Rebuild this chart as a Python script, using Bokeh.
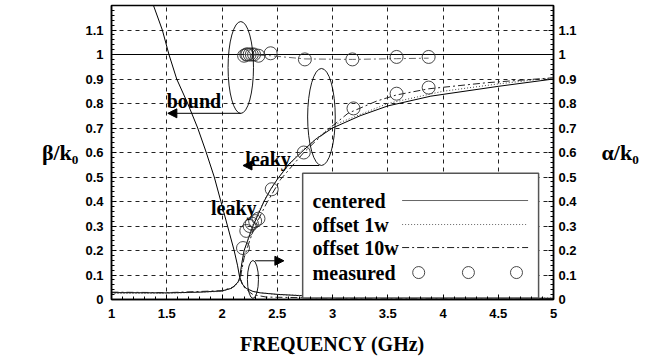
from bokeh.plotting import figure
from bokeh.models import LinearAxis, FixedTicker, NumeralTickFormatter, Arrow, NormalHead, Label, Range1d
from bokeh.embed import file_html
from bokeh.resources import INLINE
from bokeh.core.properties import value

# ---------------- data ----------------
# centered: alpha/k0 (steep reactive branch, then small leaky attenuation)
freq_alpha_c = [1.38, 1.46, 1.52, 1.59, 1.69, 1.78, 1.85, 1.93, 1.99, 2.05, 2.11, 2.14, 2.16,
                2.18, 2.22, 2.28, 2.35, 2.5, 2.7, 3.0, 3.5, 4.0, 4.5, 5.0]
alpha_c = [1.2, 1.1, 1.0, 0.9, 0.8, 0.7, 0.61, 0.5, 0.4, 0.3, 0.2, 0.14, 0.09,
           0.065, 0.045, 0.033, 0.027, 0.021, 0.016, 0.012, 0.009, 0.007, 0.006, 0.005]
# centered: beta/k0 (below cutoff, then leaky)
freq_beta_c = [1.0, 1.5, 1.8, 2.0, 2.08, 2.12, 2.15, 2.16, 2.18, 2.2, 2.24, 2.28, 2.33, 2.38,
               2.44, 2.5, 2.6, 2.74, 2.85, 3.0, 3.25, 3.5, 3.89, 4.5, 5.0]
beta_c = [0.028, 0.027, 0.03, 0.035, 0.045, 0.058, 0.075, 0.09, 0.15, 0.2, 0.25, 0.3, 0.35, 0.4,
          0.45, 0.49, 0.55, 0.61, 0.655, 0.7, 0.75, 0.79, 0.83, 0.87, 0.9]
# centered: bound mode beta/k0
freq_bound_c = [1.0, 5.0]
bound_c = [1.0, 1.0]

# offset 1w
freq_beta_1w = [1.0, 1.5, 2.0, 2.1, 2.15, 2.17, 2.2, 2.25, 2.3, 2.4, 2.5, 2.7, 3.0, 3.5, 4.0, 4.5, 5.0]
beta_1w = [0.025, 0.025, 0.033, 0.047, 0.072, 0.095, 0.19, 0.27, 0.33, 0.42, 0.49, 0.6, 0.71, 0.8,
           0.85, 0.88, 0.905]
freq_alpha_1w = [2.16, 2.2, 2.3, 2.5, 3.0, 4.0, 5.0]
alpha_1w = [0.09, 0.05, 0.03, 0.02, 0.012, 0.008, 0.006]

# offset 10w
freq_beta_10w = [1.0, 1.5, 2.0, 2.1, 2.15, 2.17, 2.2, 2.25, 2.3, 2.4, 2.53, 2.74, 2.95, 3.14,
                 3.4, 3.58, 3.87, 4.4, 5.0]
beta_10w = [0.03, 0.028, 0.036, 0.05, 0.075, 0.1, 0.17, 0.24, 0.3, 0.39, 0.49, 0.6, 0.69, 0.76,
            0.81, 0.835, 0.86, 0.885, 0.905]
freq_alpha_10w = [2.16, 2.2, 2.25, 2.28, 2.4, 3.0, 5.0]
alpha_10w = [0.09, 0.05, 0.03, 0.02, 0.01, 0.005, 0.003]
freq_bound_10w = [2.2, 2.44, 2.75, 3.18, 3.58, 3.87]
bound_10w = [1.0, 0.995, 0.982, 0.98, 0.983, 0.985]

# measured
freq_meas_beta = [2.19, 2.22, 2.25, 2.27, 2.30, 2.33, 2.45, 2.74, 3.19, 3.58, 3.87]
meas_beta = [0.21, 0.28, 0.30, 0.31, 0.32, 0.33, 0.45, 0.60, 0.78, 0.84, 0.865]
freq_meas_bound = [2.20, 2.22, 2.23, 2.25, 2.27, 2.29, 2.33, 2.44, 2.75, 3.18, 3.58, 3.87]
meas_bound = [0.995, 1.0, 1.0, 1.0, 1.0, 1.0, 0.995, 1.005, 0.98, 0.98, 0.99, 0.99]

x_ticks = [1, 1.5, 2, 2.5, 3, 3.5, 4, 4.5, 5]
y_ticks = [0, 0.1, 0.2, 0.3, 0.4, 0.5, 0.6, 0.7, 0.8, 0.9, 1.0, 1.1]
legend_labels = ["centered", "offset 1w", "offset 10w", "measured"]

# ---------------- styling / layout constants ----------------
SERIF = "Liberation Serif"
SANS = "Liberation Sans"
DASH_1W = "1 2"
DASH_10W = "7 3 2 3"

p = figure(width=655, height=358, x_range=Range1d(1, 5), y_range=Range1d(0, 1.2),
           output_backend="svg", toolbar_location=None,
           min_border_left=111, min_border_right=102, min_border_top=5, min_border_bottom=59)
p.background_fill_color = "white"
p.border_fill_color = "white"
p.outline_line_color = "black"
p.outline_line_width = 1.5

x_minor = [1 + 0.1 * i for i in range(41)]
y_minor = [0.02 * i for i in range(61)]
xt = FixedTicker(ticks=x_ticks, minor_ticks=x_minor)
yt = FixedTicker(ticks=y_ticks, minor_ticks=y_minor)

def style_axis(ax):
    ax.major_label_text_font = SANS
    ax.major_label_text_font_style = "bold"
    ax.major_label_text_font_size = "13px"
    ax.major_label_text_color = "black"
    ax.axis_line_color = "black"
    ax.axis_line_width = 1.5
    ax.major_tick_in = 5
    ax.major_tick_out = 0
    ax.minor_tick_in = 3
    ax.minor_tick_out = 0
    ax.major_tick_line_color = "black"
    ax.minor_tick_line_color = "black"
    ax.formatter = NumeralTickFormatter(format="0.[0]")
    ax.axis_label_text_font = SERIF
    ax.axis_label_text_font_style = "bold"
    ax.axis_label_text_font_size = "22px"
    ax.axis_label_text_color = "black"

xa = p.xaxis[0]
xa.ticker = xt
style_axis(xa)
xa.major_label_standoff = 9
xa.axis_label = "FREQUENCY (GHz)"
xa.axis_label_text_font_size = "20px"
xa.axis_label_standoff = 12

ya = p.yaxis[0]
ya.ticker = yt
style_axis(ya)
ya.major_label_standoff = 8
ya.axis_label = "β/k₀"
ya.axis_label_orientation = "horizontal"
ya.axis_label_standoff = 4

ra = LinearAxis(ticker=yt)
style_axis(ra)
ra.major_label_standoff = 5
ra.axis_label = "α/k₀"
ra.axis_label_orientation = "horizontal"
ra.axis_label_standoff = 22
p.add_layout(ra, "right")

p.xgrid.ticker = xt
p.ygrid.ticker = yt
for g in (p.xgrid[0], p.ygrid[0]):
    g.grid_line_color = "#222222"
    g.grid_line_dash = "4 4"
    g.grid_line_width = 1

# ---------------- curves ----------------
LW = 1.0
p.line(freq_bound_c, bound_c, line_color="black", line_width=LW)
p.line(freq_alpha_c, alpha_c, line_color="black", line_width=LW)
p.line(freq_beta_c, beta_c, line_color="black", line_width=LW)
p.line(freq_beta_1w, beta_1w, line_color="#444444", line_width=LW, line_dash=DASH_1W)
p.line(freq_alpha_1w, alpha_1w, line_color="#444444", line_width=LW, line_dash=DASH_1W)
p.line(freq_beta_10w, beta_10w, line_color="#222222", line_width=LW, line_dash=DASH_10W)
p.line(freq_alpha_10w, alpha_10w, line_color="#222222", line_width=LW, line_dash=DASH_10W)
p.line(freq_bound_10w, bound_10w, line_color="#666666", line_width=LW, line_dash=DASH_10W)

MARK = 13
p.scatter(freq_meas_beta, meas_beta, marker="circle", size=MARK, fill_color=None,
          line_color="#333333", line_width=0.9)
p.scatter(freq_meas_bound, meas_bound, marker="circle", size=MARK, fill_color=None,
          line_color="#333333", line_width=0.9)

# ---------------- annotations (ellipses, arrows, labels) ----------------
ELLIPSES = [(2.17, 0.947, 0.23, 0.375), (2.90, 0.745, 0.25, 0.396), (2.28, 0.082, 0.10, 0.155)]
for cx, cy, w, h in ELLIPSES:
    p.ellipse(x=cx, y=cy, width=w, height=h, fill_color=None, line_color="black", line_width=0.9)

ARROWS = [(2.17, 0.76, 1.51, 0.76), (2.88, 0.547, 2.19, 0.547), (2.30, 0.158, 2.56, 0.158)]
for xs, ys, xe, ye in ARROWS:
    p.add_layout(Arrow(end=NormalHead(size=9, fill_color="black", line_color="black"),
                       x_start=xs, y_start=ys, x_end=xe, y_end=ye,
                       line_color="black", line_width=1))

TEXTS = [("bound", 1.50, 0.812), ("leaky", 2.21, 0.575), ("leaky", 1.90, 0.375)]
for t, tx, ty in TEXTS:
    p.add_layout(Label(x=tx, y=ty, text=t, text_font=SERIF, text_font_style="bold",
                       text_font_size="20px", text_color="black", text_baseline="alphabetic"))

# ---------------- legend (drawn in the frame, label then sample) ----------------
LEG_L, LEG_R, LEG_B, LEG_T = 2.73, 4.865, 0.006, 0.515
ROW_Y = [0.404, 0.306, 0.212, 0.11]
TXT_X = 2.82
SAMPLE_X0, SAMPLE_X1 = 3.63, 4.77
CIRC_X = [3.78, 4.23, 4.665]

p.quad(left=LEG_L, right=LEG_R, bottom=LEG_B, top=LEG_T, fill_color="white",
       line_color="#555555", line_width=1.5)
p.text(x=[TXT_X] * 4, y=ROW_Y, text=legend_labels, text_font=value(SERIF),
       text_font_style="bold", text_font_size="20px", text_baseline="middle",
       text_color="black")
p.line([SAMPLE_X0, SAMPLE_X1], [ROW_Y[0]] * 2, line_color="#666666", line_width=LW)
p.line([SAMPLE_X0, SAMPLE_X1], [ROW_Y[1]] * 2, line_color="#666666", line_width=LW, line_dash=DASH_1W)
p.line([SAMPLE_X0, SAMPLE_X1], [ROW_Y[2]] * 2, line_color="#222222", line_width=LW, line_dash=DASH_10W)
p.scatter(CIRC_X, [ROW_Y[3]] * 3, marker="circle", size=12, fill_color=None,
          line_color="#333333", line_width=0.9)

open("out.html", "w").write(file_html(p, INLINE))
